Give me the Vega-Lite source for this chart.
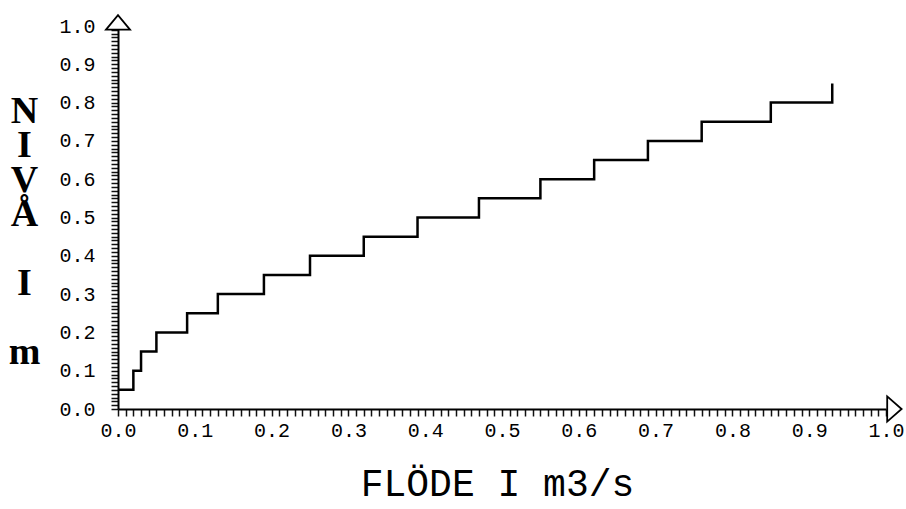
{
  "$schema": "https://vega.github.io/schema/vega-lite/v6.json",
  "width": 768,
  "height": 383,
  "autosize": {"type": "none"},
  "padding": {"left": 118, "top": 26, "right": 20, "bottom": 100},
  "background": "white",
  "config": {
    "view": {"stroke": null},
    "axis": {
      "grid": false,
      "domainColor": "black",
      "domainWidth": 2,
      "labelColor": "black",
      "titleColor": "black",
      "labelFont": "Liberation Mono",
      "labelFontSize": 20,
      "labelOverlap": false,
      "labelBound": false,
      "labelFlush": false
    }
  },
  "datasets": {
    "steps": [
      {"flow": 0.0, "level": 0.05},
      {"flow": 0.02, "level": 0.1},
      {"flow": 0.03, "level": 0.15},
      {"flow": 0.05, "level": 0.2},
      {"flow": 0.09, "level": 0.25},
      {"flow": 0.13, "level": 0.3},
      {"flow": 0.19, "level": 0.35},
      {"flow": 0.25, "level": 0.4},
      {"flow": 0.32, "level": 0.45},
      {"flow": 0.39, "level": 0.5},
      {"flow": 0.47, "level": 0.55},
      {"flow": 0.55, "level": 0.6},
      {"flow": 0.62, "level": 0.65},
      {"flow": 0.69, "level": 0.7},
      {"flow": 0.76, "level": 0.75},
      {"flow": 0.85, "level": 0.8},
      {"flow": 0.93, "level": 0.85}
    ],
    "arrows": [
      {"flow": 0.0, "level": 1.0, "dir": "up"},
      {"flow": 1.0, "level": 0.0, "dir": "right"}
    ]
  },
  "encoding": {
    "x": {
      "field": "flow",
      "type": "quantitative",
      "scale": {"domain": [0, 1], "nice": false, "zero": false},
      "axis": {
        "title": "FLÖDE I m3/s",
        "titleFont": "Liberation Mono",
        "titleFontSize": 38,
        "titleFontWeight": "normal",
        "titleBaseline": "alphabetic",
        "titleX": 379,
        "titleY": 86,
        "labelPadding": 4,
        "ticks": true,
        "tickColor": "#111111",
        "tickSize": 7,
        "tickWidth": 1.5,
        "tickCount": 100,
        "labelExpr": "abs(round(datum.value*10)-datum.value*10)<0.001 ? format(datum.value,'.1f') : ''"
      }
    },
    "y": {
      "field": "level",
      "type": "quantitative",
      "scale": {"domain": [0, 1], "nice": false, "zero": false},
      "axis": {
        "title": ["N", "I", "V", "Å", "⠀", "I", "⠀", "m"],
        "titleFont": "Liberation Serif",
        "titleFontSize": 38,
        "titleFontWeight": "bold",
        "titleAngle": 0,
        "titleAlign": "center",
        "titleBaseline": "top",
        "titleLineHeight": 34.5,
        "titleX": -94,
        "titleY": 66,
        "labelPadding": 16,
        "ticks": true,
        "tickColor": "#111111",
        "tickSize": 7,
        "tickWidth": 1.5,
        "tickCount": 100,
        "labelExpr": "abs(round(datum.value*10)-datum.value*10)<0.001 ? format(datum.value,'.1f') : ''"
      }
    }
  },
  "layer": [
    {
      "data": {"name": "steps"},
      "mark": {"type": "line", "interpolate": "step-after", "color": "black", "strokeWidth": 2.5}
    },
    {
      "data": {"name": "arrows"},
      "mark": {"type": "point", "filled": true, "fill": "white", "stroke": "black", "strokeWidth": 1.8, "size": 576, "opacity": 1},
      "encoding": {
        "shape": {
          "field": "dir",
          "type": "nominal",
          "scale": {"domain": ["up", "right"], "range": ["M-1,0.3L0,-0.9L1,0.3Z", "M0.1,-1.05L1.3,0L0.1,1.05Z"]},
          "legend": null
        }
      }
    }
  ]
}
